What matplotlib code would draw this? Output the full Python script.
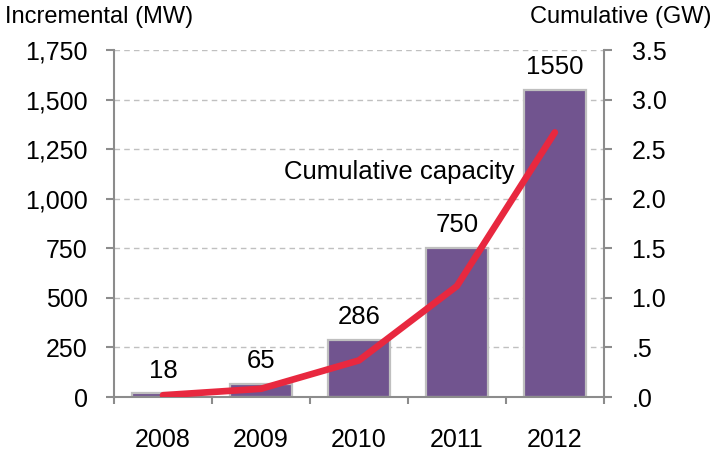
import matplotlib
matplotlib.use("Agg")
import matplotlib.pyplot as plt
import numpy as np
from matplotlib.ticker import FixedLocator

plt.rcParams['font.family'] = ['Liberation Sans', 'DejaVu Sans']

years = ["2008", "2009", "2010", "2011", "2012"]
incremental_mw = [18, 65, 286, 750, 1550]
cumulative_gw = [0.018, 0.083, 0.369, 1.119, 2.669]
left_ticks = [0, 250, 500, 750, 1000, 1250, 1500, 1750]
left_labels = ["0", "250", "500", "750", "1,000", "1,250", "1,500", "1,750"]
right_ticks = [0.0, 0.5, 1.0, 1.5, 2.0, 2.5, 3.0, 3.5]
right_labels = [".0", ".5", "1.0", "1.5", "2.0", "2.5", "3.0", "3.5"]

spine_c = "#8C8C8C"
fs = 18
fig = plt.figure(figsize=(7.14, 4.53), dpi=100)
ax = fig.add_axes([0.1597, 0.1236, 0.686, 0.766])
x = np.arange(len(years))

ax.bar(x, incremental_mw, width=0.64, color="#71548F", edgecolor="#BFBFBF", linewidth=1.6, zorder=2)
ax.set_xlim(-0.5, 4.5)
ax.set_ylim(0, 1750)
ax.set_yticks(left_ticks)
ax.set_yticklabels(left_labels, fontsize=fs)
ax.yaxis.grid(True, linestyle=(0, (4, 3)), color="#C0C0C0", linewidth=1.0, zorder=0)
ax.set_axisbelow(True)
ax.set_xticks(x)
ax.set_xticklabels(years, fontsize=fs)
ax.xaxis.set_minor_locator(FixedLocator(np.arange(-0.5, 5.0, 1.0)))
ax.tick_params(axis='x', which='major', length=0, pad=22)
ax.tick_params(axis='x', which='minor', length=5, color=spine_c, width=1.5, direction='out')
ax.tick_params(axis='y', length=6, color=spine_c, width=1.5, direction='out', pad=13)
for s in ['top', 'right']:
    ax.spines[s].set_visible(False)
for s in ['left', 'bottom']:
    ax.spines[s].set_color(spine_c)
    ax.spines[s].set_linewidth(1.5)

for xi, v in zip(x, incremental_mw):
    ax.text(xi, v + 80, str(v), ha='center', va='baseline', fontsize=18.5)

ax2 = ax.twinx()
ax2.plot(x, cumulative_gw, color="#E8283F", linewidth=4.8, solid_capstyle='round', solid_joinstyle='round', zorder=3)
ax2.set_ylim(0, 3.5)
ax2.set_yticks(right_ticks)
ax2.set_yticklabels(right_labels, fontsize=fs)
ax2.tick_params(axis='y', length=6, color=spine_c, width=1.5, direction='out', pad=14)
for s in ['top', 'left', 'bottom']:
    ax2.spines[s].set_visible(False)
ax2.spines['right'].set_color(spine_c)
ax2.spines['right'].set_linewidth(1.5)

ax2.text(2.41, 2.27, "Cumulative capacity", ha='center', va='center', fontsize=18.5)

fig.text(0.007, 0.962, "Incremental (MW)", ha='left', va='center', fontsize=17)
fig.text(0.997, 0.962, "Cumulative (GW)", ha='right', va='center', fontsize=17)

fig.savefig("out.png", dpi=100)
